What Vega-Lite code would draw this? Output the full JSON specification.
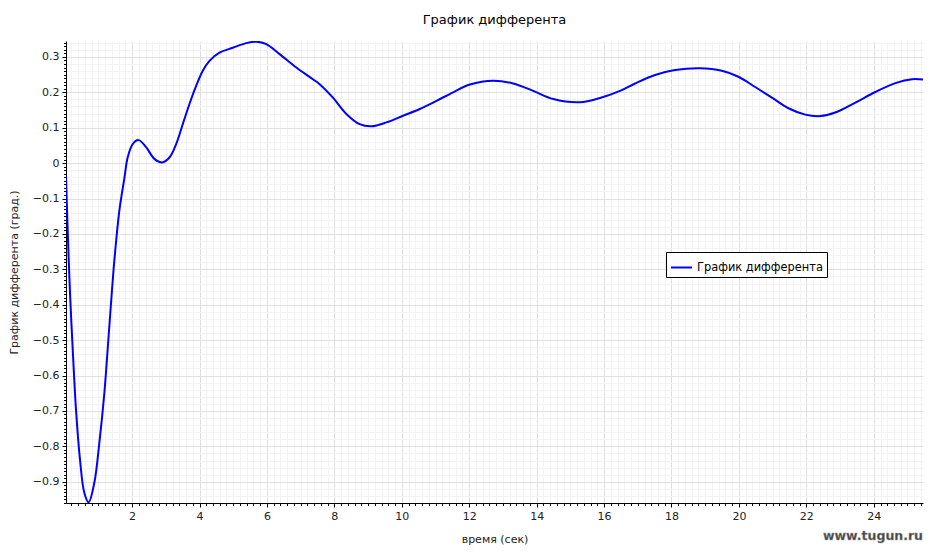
{
  "$schema": "https://vega.github.io/schema/vega-lite/v6.json",
  "width": 857,
  "height": 462,
  "autosize": {"type": "none"},
  "padding": {"left": 66, "top": 41, "right": 9, "bottom": 51},
  "background": "white",
  "title": {"text": "График дифферента", "fontSize": 13, "fontWeight": "normal", "font": "DejaVu Sans", "color": "#000", "offset": 10, "anchor": "middle"},
  "config": {"view": {"stroke": null}, "font": "DejaVu Sans"},
  "layer": [
    {
      "data": {"values": [
        {"t": 0.04, "v": -0.038}, {"t": 0.087, "v": -0.181}, {"t": 0.159, "v": -0.368}, {"t": 0.236, "v": -0.519},
        {"t": 0.337, "v": -0.697}, {"t": 0.456, "v": -0.838}, {"t": 0.583, "v": -0.931}, {"t": 0.711, "v": -0.958},
        {"t": 0.88, "v": -0.903}, {"t": 1.029, "v": -0.79}, {"t": 1.177, "v": -0.65}, {"t": 1.326, "v": -0.46},
        {"t": 1.474, "v": -0.275}, {"t": 1.623, "v": -0.134}, {"t": 1.771, "v": -0.043}, {"t": 1.869, "v": 0.016},
        {"t": 2.018, "v": 0.054}, {"t": 2.196, "v": 0.065}, {"t": 2.416, "v": 0.045}, {"t": 2.662, "v": 0.012},
        {"t": 2.891, "v": 0.002}, {"t": 3.108, "v": 0.016}, {"t": 3.307, "v": 0.054}, {"t": 3.503, "v": 0.11},
        {"t": 3.702, "v": 0.167}, {"t": 3.901, "v": 0.218}, {"t": 4.097, "v": 0.261}, {"t": 4.296, "v": 0.289},
        {"t": 4.593, "v": 0.312}, {"t": 4.988, "v": 0.326}, {"t": 5.386, "v": 0.339}, {"t": 5.683, "v": 0.343},
        {"t": 5.98, "v": 0.336}, {"t": 6.375, "v": 0.308}, {"t": 6.871, "v": 0.27}, {"t": 7.364, "v": 0.237},
        {"t": 7.563, "v": 0.223}, {"t": 7.958, "v": 0.185}, {"t": 8.356, "v": 0.139}, {"t": 8.751, "v": 0.11},
        {"t": 9.098, "v": 0.104}, {"t": 9.544, "v": 0.115}, {"t": 10.037, "v": 0.134}, {"t": 10.533, "v": 0.153},
        {"t": 11.029, "v": 0.176}, {"t": 11.522, "v": 0.2}, {"t": 12.018, "v": 0.222}, {"t": 12.71, "v": 0.233},
        {"t": 13.304, "v": 0.225}, {"t": 13.898, "v": 0.204}, {"t": 14.492, "v": 0.181}, {"t": 15.284, "v": 0.172},
        {"t": 15.879, "v": 0.184}, {"t": 16.473, "v": 0.204}, {"t": 16.918, "v": 0.225}, {"t": 17.512, "v": 0.249},
        {"t": 18.106, "v": 0.263}, {"t": 18.848, "v": 0.268}, {"t": 19.493, "v": 0.261}, {"t": 19.986, "v": 0.244},
        {"t": 20.482, "v": 0.215}, {"t": 20.978, "v": 0.185}, {"t": 21.471, "v": 0.155}, {"t": 21.967, "v": 0.137},
        {"t": 22.413, "v": 0.133}, {"t": 22.858, "v": 0.143}, {"t": 23.452, "v": 0.171}, {"t": 24.046, "v": 0.201},
        {"t": 24.64, "v": 0.226}, {"t": 25.136, "v": 0.237}, {"t": 25.46, "v": 0.236}
      ]},
      "mark": {"type": "line", "interpolate": "catmull-rom", "strokeWidth": 2, "clip": true},
      "encoding": {
        "x": {
          "field": "t", "type": "quantitative",
          "scale": {"domain": [0.04, 25.46], "nice": false, "zero": false},
          "axis": {
            "tickCount": 130,
            "labelExpr": "abs(datum.value/2 - round(datum.value/2)) < 0.001 ? format(datum.value, 'd') : ''",
            "labelOverlap": false, "labelFlush": false, "labelBound": false,
            "labelFontSize": 11, "labelColor": "#222", "labelFont": "DejaVu Sans", "labelPadding": 3,
            "tickSize": {"condition": {"test": "abs(datum.value/2 - round(datum.value/2)) < 0.001", "value": 4}, "value": 2.5},
            "tickColor": "#000", "domainColor": "#000",
            "grid": true,
            "gridColor": {"condition": {"test": "abs(datum.value/2 - round(datum.value/2)) < 0.001", "value": "#e0e0e0"}, "value": "#f3f3f3"},
            "title": "время (сек)", "titleFontSize": 11, "titleFontWeight": "normal", "titleColor": "#222", "titleFont": "DejaVu Sans", "titlePadding": 12
          }
        },
        "y": {
          "field": "v", "type": "quantitative",
          "scale": {"domain": [-0.96, 0.345], "nice": false, "zero": false},
          "axis": {
            "tickCount": 130,
            "labelExpr": "abs(datum.value*10 - round(datum.value*10)) < 0.001 ? format(datum.value, '.1~f') : ''",
            "labelOverlap": false, "labelFlush": false, "labelBound": false,
            "labelFontSize": 11, "labelColor": "#222", "labelFont": "DejaVu Sans", "labelPadding": 3,
            "tickSize": {"condition": {"test": "abs(datum.value*10 - round(datum.value*10)) < 0.001", "value": 4}, "value": 2.5},
            "tickColor": "#000", "domainColor": "#000",
            "grid": true,
            "gridColor": {"condition": {"test": "abs(datum.value*10 - round(datum.value*10)) < 0.001", "value": "#e0e0e0"}, "value": "#f3f3f3"},
            "gridOpacity": {"condition": {"test": "abs(datum.value*50 - round(datum.value*50)) < 0.001", "value": 1}, "value": 0},
            "title": "График дифферента (град.)", "titleFontSize": 11, "titleFontWeight": "normal", "titleColor": "#222", "titleFont": "DejaVu Sans", "titlePadding": 13
          }
        },
        "color": {
          "datum": "График дифферента",
          "scale": {"range": ["#0000ff"]},
          "legend": {
            "orient": "none", "legendX": 600, "legendY": 211, "title": null,
            "strokeColor": "#000", "fillColor": "#fff", "padding": 4, "cornerRadius": 0,
            "symbolType": "stroke", "symbolSize": 441, "symbolStrokeWidth": 2,
            "labelFontSize": 11.4, "labelColor": "#000", "labelFont": "DejaVu Sans", "labelOffset": 4
          }
        }
      }
    },
    {
      "data": {"values": [{"label": "www.tugun.ru"}]},
      "mark": {"type": "text", "align": "right", "baseline": "middle", "dy": 33, "fontSize": 12.5, "fontWeight": "bold", "font": "DejaVu Sans", "fill": "#444", "stroke": "#999", "strokeWidth": 0.4},
      "encoding": {
        "x": {"datum": 25.46},
        "y": {"datum": -0.96},
        "text": {"field": "label"}
      }
    }
  ]
}
